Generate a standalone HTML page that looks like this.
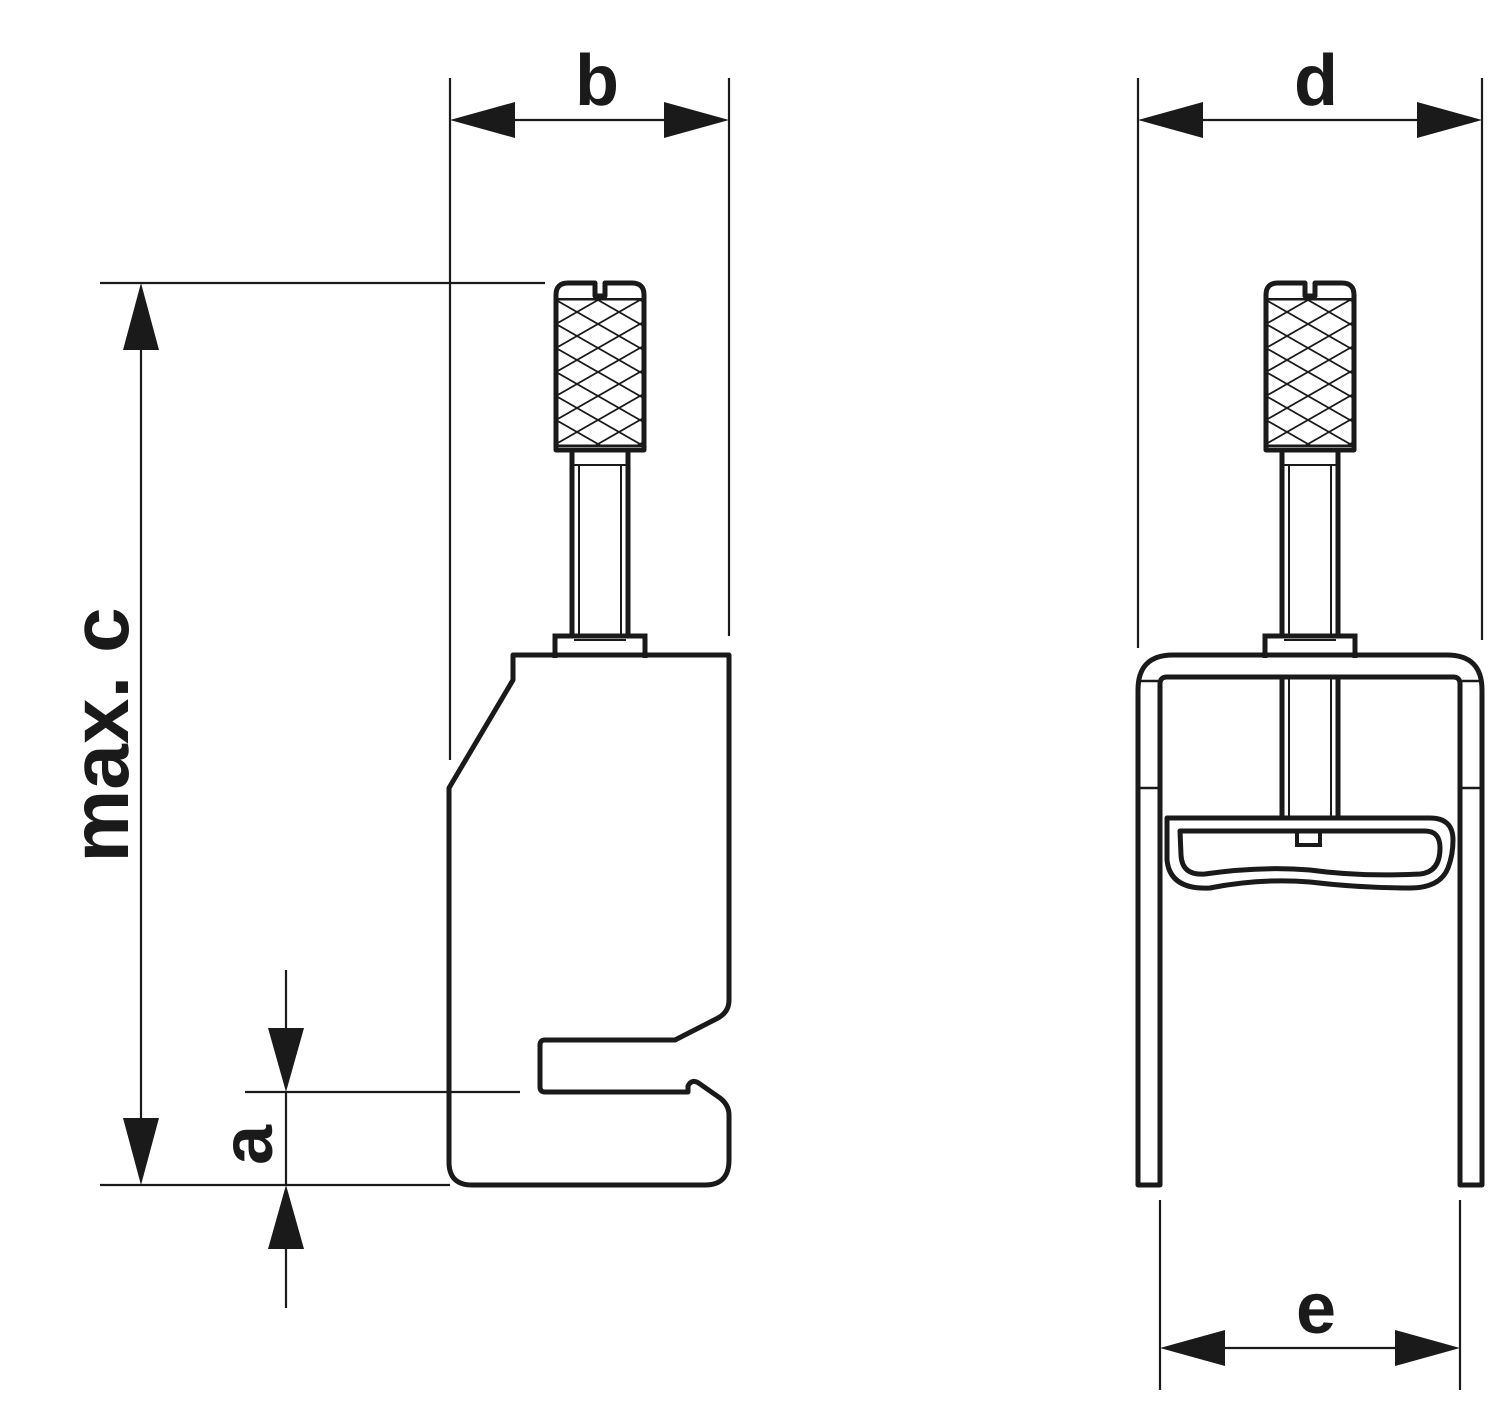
<!DOCTYPE html>
<html><head><style>html,body{margin:0;padding:0;background:#fff}svg{display:block}</style></head>
<body>
<svg width="1500" height="1409" viewBox="0 0 1500 1409" xmlns="http://www.w3.org/2000/svg">
<defs>
<pattern id="kn" x="0" y="300" width="42" height="24" patternUnits="userSpaceOnUse">
<path d="M0,0 L42,24 M0,24 L42,0 M-21,12 L0,0 M-21,12 L0,24 M42,0 L63,12 M42,24 L63,12" stroke="#1a1a1a" stroke-width="1.8"/>
</pattern>
<g id="screw">
<path d="M0,300 L0,445 L88,445 L88,300 Z" fill="url(#kn)"/>
<path d="M0,295 Q0,283 12,283 L39,283 L39,296 L49,296 L49,283 L76,283 Q88,283 88,295 L88,450 L0,450 Z" fill="none" stroke="#1a1a1a" stroke-width="5" stroke-linejoin="round"/>
<line x1="2" y1="299" x2="86" y2="299" stroke="#1a1a1a" stroke-width="2"/>
<line x1="2" y1="446" x2="86" y2="446" stroke="#1a1a1a" stroke-width="2"/>
<path d="M16,450 L16,637 M72,450 L72,637" stroke="#1a1a1a" stroke-width="5"/>
<path d="M23,465 L23,637 M65,465 L65,637 M18,465 L70,465" stroke="#1a1a1a" stroke-width="2"/>
<path d="M-1,658 L-1,636 L89,636 L89,658" fill="none" stroke="#1a1a1a" stroke-width="5"/>
<path d="M18,640 L70,640" stroke="#1a1a1a" stroke-width="2"/>
</g>
</defs>
<g stroke="#1a1a1a" fill="none">
<use href="#screw" x="556"/>
<path d="M513,655 L729,655 L729,1000 Q729,1012 718,1018 L675,1040 L545,1040 Q540,1040 540,1045 L540,1087 Q540,1092 545,1092 L688,1092 L688,1086 Q692,1078 700,1084 L720,1098 Q729,1105 729,1115 L729,1160 Q729,1185 705,1185 L472,1185 Q449,1185 449,1162 L449,788 L513,680 Z" stroke-width="5" stroke-linejoin="round"/>
<g stroke-width="2.2">
<line x1="450" y1="78" x2="450" y2="760"/>
<line x1="729" y1="78" x2="729" y2="636"/>
<line x1="510" y1="120" x2="670" y2="120"/>
<line x1="100" y1="283" x2="545" y2="283"/>
<line x1="100" y1="1185" x2="450" y2="1185"/>
<line x1="141" y1="345" x2="141" y2="1125"/>
<line x1="286" y1="970" x2="286" y2="1035"/>
<line x1="286" y1="1092" x2="286" y2="1185"/>
<line x1="286" y1="1245" x2="286" y2="1308"/>
<line x1="245" y1="1092" x2="520" y2="1092"/>
<line x1="1138" y1="78" x2="1138" y2="648"/>
<line x1="1482" y1="78" x2="1482" y2="640"/>
<line x1="1200" y1="120" x2="1420" y2="120"/>
<line x1="1160" y1="1200" x2="1160" y2="1390"/>
<line x1="1460" y1="1200" x2="1460" y2="1390"/>
<line x1="1220" y1="1348" x2="1400" y2="1348"/>
</g>
</g>
<g fill="#1a1a1a">
<path d="M450,120 L515,102 L515,138 Z"/>
<path d="M729,120 L664,102 L664,138 Z"/>
<path d="M141,283 L123,350 L159,350 Z"/>
<path d="M141,1185 L123,1118 L159,1118 Z"/>
<path d="M286,1092 L268,1028 L304,1028 Z"/>
<path d="M286,1185 L268,1249 L304,1249 Z"/>
<path d="M1138,120 L1203,102 L1203,138 Z"/>
<path d="M1482,120 L1417,102 L1417,138 Z"/>
<path d="M1160,1348 L1225,1330 L1225,1366 Z"/>
<path d="M1460,1348 L1395,1330 L1395,1366 Z"/>
</g>
<g font-family="Liberation Sans, sans-serif" font-weight="bold" fill="#1a1a1a" text-anchor="middle">
<text x="597" y="105" font-size="72">b</text>
<text x="1316" y="105" font-size="72">d</text>
<text x="1316" y="1333" font-size="72">e</text>
<text transform="translate(128,735) rotate(-90)" font-size="82">max. c</text>
<text transform="translate(272,1145) rotate(-90)" font-size="72">a</text>
</g>
<g stroke="#1a1a1a" fill="none">
<use href="#screw" x="1266"/>
<path d="M1282,678 L1282,820 M1338,678 L1338,820" stroke-width="5"/>
<path d="M1289,678 L1289,820 M1331,678 L1331,820" stroke-width="2"/>
<path d="M1138,1185 L1138,690 Q1138,655 1173,655 L1447,655 Q1482,655 1482,690 L1482,1185 L1460,1185 L1460,684 Q1460,677 1453,677 L1167,677 Q1160,677 1160,684 L1160,1185 Z" stroke-width="5" stroke-linejoin="round"/>
<path d="M1140,681 L1158,681 M1462,681 L1480,681 M1140,788 L1158,788 M1462,788 L1480,788" stroke-width="2.5"/>
<path d="M1167,818 L1430,818 Q1453,818 1453,840 Q1453,855 1448,868 Q1440,888 1410,888 Q1360,888 1310,882 Q1260,878 1210,888 Q1170,890 1167,860 Z" stroke-width="5" stroke-linejoin="round"/>
<path d="M1180,831 L1425,831 Q1440,831 1440,848 Q1440,872 1420,874 Q1360,877 1310,870 Q1260,866 1205,874 Q1182,876 1181,855 Z" stroke-width="5" stroke-linejoin="round"/>
<path d="M1297,832 L1297,845 L1320,845 L1320,832" stroke-width="4"/>
</g>
</svg>
</body></html>
